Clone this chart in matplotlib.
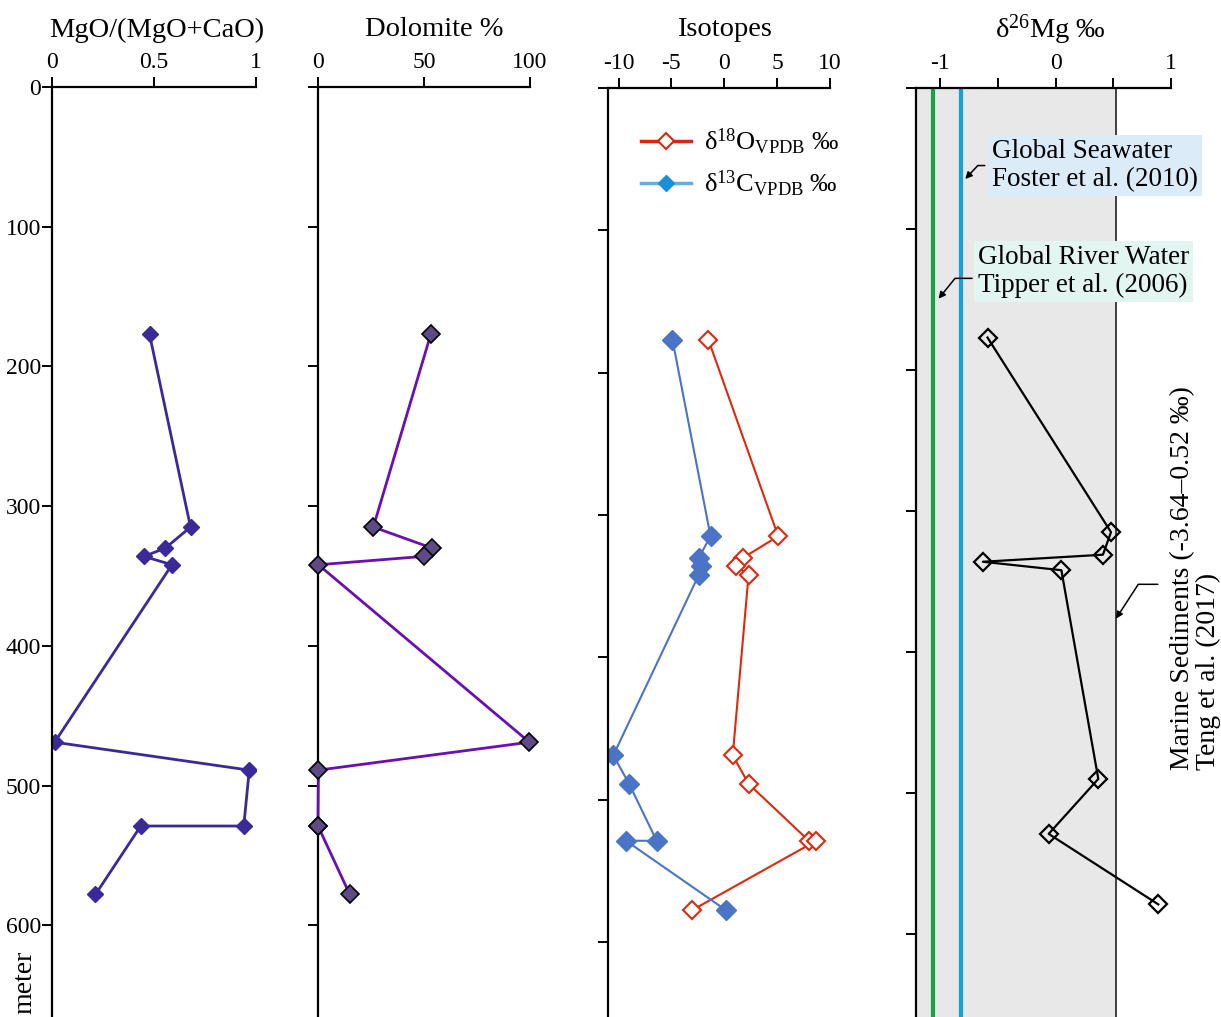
import numpy as np
import matplotlib
matplotlib.use('Agg')
import matplotlib.pyplot as plt
from matplotlib.lines import Line2D

plt.rcParams['font.family'] = ['Liberation Serif', 'DejaVu Serif']
plt.rcParams['mathtext.fontset'] = 'custom'
plt.rcParams['mathtext.rm'] = 'Liberation Serif'
plt.rcParams['mathtext.it'] = 'Liberation Serif:italic'
plt.rcParams['mathtext.bf'] = 'Liberation Serif:bold'

# Profundidade das amostras (m)
depth = [177, 315, 330, 336, 342, 469, 489, 529, 529, 578]

mgo_ratio = [0.478, 0.679, 0.556, 0.451, 0.588, 0.013, 0.967, 0.940, 0.435, 0.213]
dolomite = [53.2, 26.1, 53.7, 49.8, 0.2, 99.7, 0.2, 0.0, 0.0, 15.0]
d18o = [-1.5, 5.1, 1.8, 1.1, 2.3, 0.8, 2.3, 8.0, 8.7, -3.1]
d13c = [-4.9, -1.3, -2.4, -2.2, -2.4, -10.5, -9.0, -6.4, -9.3, 0.2]

# d26Mg medido em apenas 8 amostras
mg_depth = [177, 315, 331, 336, 342, 490, 529, 579]
d26mg = [-0.59, 0.48, 0.41, -0.63, 0.05, 0.37, -0.06, 0.89]

river_water = -1.06      # Tipper et al. (2006)
seawater = -0.82         # Foster et al. (2010)
marine_sed = (-3.64, 0.52)  # Teng et al. (2017)

W, H = 1221, 1017
fig = plt.figure(figsize=(W / 100, H / 100), dpi=100)


def painel(x0, x1, top, ymax, xlim, xticks, xlabels):
    ax = fig.add_axes([x0 / W, 0, (x1 - x0) / W, 1 - top / H])
    ax.set_xlim(*xlim)
    ax.set_ylim(ymax, 0)
    ax.xaxis.tick_top()
    ax.set_xticks(xticks)
    ax.set_xticklabels(xlabels)
    ax.set_yticks(range(0, 700, 100))
    for s in ['right', 'bottom']:
        ax.spines[s].set_visible(False)
    for s in ['top', 'left']:
        ax.spines[s].set_linewidth(1.6)
    ax.tick_params(direction='out', length=7, width=1.4, labelsize=17, pad=3)
    ax.tick_params(axis='y', labelleft=False)
    return ax


ax1 = painel(52, 256, 87, 930 / 1.397, (0, 1), [0, 0.5, 1], ['0', '0.5', '1'])
ax1.tick_params(axis='y', labelleft=True, pad=1)
ax1.plot(mgo_ratio, depth, color='#3a2a98', lw=2, marker='D', ms=8,
         mfc='#3a2a98', mec='#3a2a98')

ax2 = painel(318, 530, 87, 930 / 1.397, (0, 100), [0, 50, 100], ['0', '50', '100'])
ax2.plot(dolomite, depth, color='#6c0fb0', lw=2, marker='D', ms=9,
         mfc='#5e4a86', mec='black', mew=1.2, zorder=3, clip_on=False)

ax3 = painel(608, 830, 88, 929 / 1.423, (-11, 10), [-10, -5, 0, 5, 10],
             ['-10', '-5', '0', '5', '10'])
ax3.plot(d18o, depth, color='#e0280c', lw=1.5, marker='D', ms=9,
         mfc='white', mec='#e0280c', mew=1.5)
ax3.plot(d13c, depth, color='#4a74c6', lw=1.5, marker='D', ms=10,
         mfc='#4a74c6', mec='#4a74c6')
handles = [
    Line2D([], [], color='#d8280c', lw=2.5, marker='D', ms=8, mfc='white',
           mec='#d8280c', mew=1.5),
    Line2D([], [], color='#62aee2', lw=2.5, marker='D', ms=8, mfc='#1a8fd2',
           mec='#1a8fd2'),
]
labels = [r'δ$^{18}$O$_{\mathrm{VPDB}}$ ‰', r'δ$^{13}$C$_{\mathrm{VPDB}}$ ‰']
ax3.legend(handles, labels, loc='upper left', bbox_to_anchor=(0.1, 0.97),
           frameon=False, fontsize=19, handlelength=1.9, handletextpad=0.5,
           labelspacing=0.45, borderaxespad=0)

ax4 = painel(916, 1171, 88, 929 / 1.41, (-1.21, 1.0), [-1, -0.5, 0, 0.5, 1],
             ['-1', '', '0', '', '1'])
ax4.axvspan(marine_sed[0], marine_sed[1], color='#e8e8e8', zorder=0)
ax4.axvline(marine_sed[1], color='#333333', lw=1.3, zorder=1)
ax4.axvline(river_water, color='#17a34a', lw=3, zorder=2)
ax4.axvline(seawater, color='#179fd9', lw=3, zorder=2)
ax4.plot(d26mg, mg_depth, color='black', lw=1.6, marker='D', ms=9,
         mfc='none', mec='black', mew=1.6, zorder=4, clip_on=False)

ax4.text(-0.55, 55, 'Global Seawater\nFoster et al. (2010)', fontsize=19.5,
         va='center', ha='left', linespacing=1.15, clip_on=False, zorder=5,
         bbox=dict(boxstyle='square,pad=0.15', fc='#dcebf8', ec='none'))
ax4.annotate('', xy=(-0.80, 66), xytext=(-0.59, 55),
             arrowprops=dict(arrowstyle='-|>', color='black', lw=1.1,
                             mutation_scale=10,
                             connectionstyle='angle,angleA=0,angleB=47,rad=0'),
             annotation_clip=False)

ax4.text(-0.675, 130, 'Global River Water\nTipper et al. (2006)', fontsize=19.5,
         va='center', ha='left', linespacing=1.15, clip_on=False, zorder=5,
         bbox=dict(boxstyle='square,pad=0.15', fc='#e2f5f1', ec='none'))
ax4.annotate('', xy=(-1.03, 151), xytext=(-0.70, 135),
             arrowprops=dict(arrowstyle='-|>', color='black', lw=1.1,
                             mutation_scale=10,
                             connectionstyle='angle,angleA=0,angleB=51,rad=0'),
             annotation_clip=False)

ax4.text(1.215, 484, 'Marine Sediments (-3.64–0.52 ‰)\nTeng et al. (2017)',
         fontsize=20, rotation=90, ha='center', va='bottom',
         multialignment='left', linespacing=1.05, clip_on=False)
ax4.annotate('', xy=(0.51, 378), xytext=(0.91, 352),
             arrowprops=dict(arrowstyle='-|>', color='black', lw=1.1,
                             mutation_scale=10,
                             connectionstyle='angle,angleA=0,angleB=57,rad=0'),
             annotation_clip=False)

# Títulos dos painéis
titulos = [(157, 'MgO/(MgO+CaO)'), (434, 'Dolomite %'), (724, 'Isotopes'),
           (1050, r'δ$^{26}$Mg ‰')]
for xc, txt in titulos:
    fig.text(xc / W, 1 - 30 / H, txt, fontsize=20.5, ha='center', va='center')

fig.text(25 / W, 1 - 982 / H, 'meter', fontsize=20, rotation=90,
         ha='center', va='center')

fig.savefig('out.png', dpi=100)
